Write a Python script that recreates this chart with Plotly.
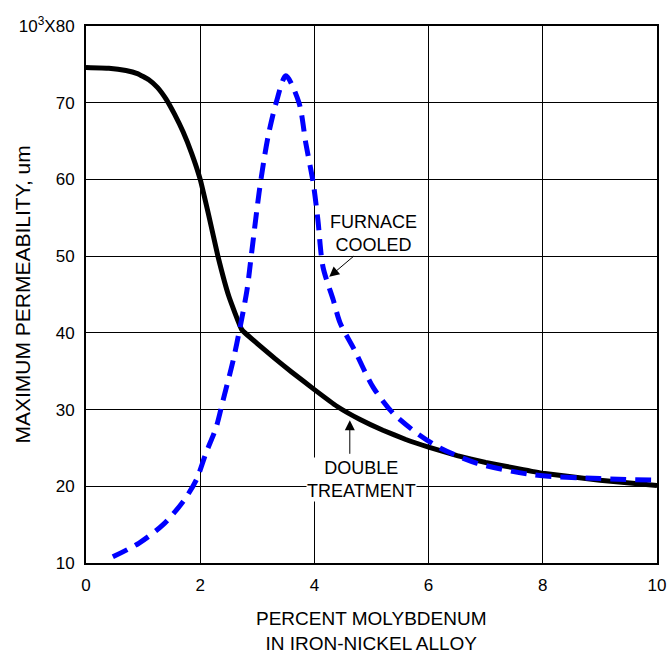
import plotly.graph_objects as go

# Double treatment (solid black)
dt_x = [0, 0.4, 0.7, 0.9, 1.1, 1.25, 1.4, 1.55, 1.7, 1.85, 2.0, 2.15, 2.31, 2.5, 2.73,
        3.0, 3.3, 3.6, 4.0, 4.4, 4.8, 5.2, 5.6, 6.0, 6.5, 7.0, 7.5, 8.0, 9.0, 10]
dt_y = [74.6, 74.5, 74.2, 73.8, 73.0, 72.0, 70.5, 68.5, 66.2, 63.4, 60.0, 55.3, 50.0, 44.8, 40.4,
        38.6, 36.7, 34.9, 32.6, 30.4, 28.7, 27.3, 26.1, 25.1, 24.0, 23.1, 22.4, 21.7, 20.8, 20.1]

# Furnace cooled (dashed blue)
fc_x = [0.47, 0.93, 1.35, 1.7, 1.93, 2.1, 2.28, 2.4, 2.58, 2.7, 2.82, 2.9, 3.03, 3.12, 3.2,
        3.33, 3.5, 3.73, 3.85, 3.98, 4.06, 4.15, 4.33, 4.45, 4.7, 5.03, 5.38, 5.8, 6.2,
        6.85, 7.83, 9.0, 10]
fc_y = [10.8, 12.6, 15.0, 18.0, 20.8, 24.3, 27.7, 31.2, 36.5, 40.8, 45.6, 50.4, 58.2, 62.7, 66.0,
        70.0, 73.5, 70.0, 64.7, 59.5, 54.8, 48.6, 44.3, 41.3, 37.8, 32.9, 29.5, 26.9, 25.0,
        23.0, 21.5, 21.0, 20.8]

x_ticks = [0, 2, 4, 6, 8, 10]
y_ticks = [10, 20, 30, 40, 50, 60, 70, 80]
y_ticktext = ["10", "20", "30", "40", "50", "60", "70", "10<sup>3</sup>X80"]

FONT = "Liberation Sans, Arial, sans-serif"

fig = go.Figure()
fig.add_trace(go.Scatter(x=dt_x, y=dt_y, mode="lines",
                         line=dict(color="black", width=5, shape="spline", smoothing=0.3)))
fig.add_trace(go.Scatter(x=fc_x, y=fc_y, mode="lines",
                         line=dict(color="#0000ff", width=5, dash="16px,9px",
                                   shape="spline", smoothing=0.8)))

fig.update_layout(
    width=669, height=654,
    margin=dict(l=86, r=12, t=26, b=91, autoexpand=False),
    paper_bgcolor="white", plot_bgcolor="white",
    showlegend=False,
    font=dict(family=FONT, color="black", size=17),
)
fig.update_xaxes(range=[0, 10], tickvals=x_ticks, showgrid=True, gridcolor="black",
                 gridwidth=1, showline=True, linecolor="black", linewidth=2, mirror=True,
                 zeroline=False, ticks="", tickfont=dict(size=17), ticklabelstandoff=6,
                 automargin=False)
fig.update_yaxes(range=[10, 80], tickvals=y_ticks, ticktext=y_ticktext, showgrid=True,
                 gridcolor="black", gridwidth=1, showline=True, linecolor="black",
                 linewidth=2, mirror=True, zeroline=False, ticks="",
                 tickfont=dict(size=17), ticklabelstandoff=6, automargin=False)

# Axis titles
fig.add_annotation(text="PERCENT MOLYBDENUM<br>IN IRON-NICKEL ALLOY", xref="paper", yref="paper",
                   x=0.5, y=-0.081, xanchor="center", yanchor="top", showarrow=False,
                   font=dict(size=19), align="center")
fig.add_annotation(text="MAXIMUM PERMEABILITY, um", xref="paper", yref="paper",
                   x=-0.112, y=0.5, xanchor="center", yanchor="middle", textangle=-90,
                   showarrow=False, font=dict(size=21))

# Curve labels
fig.add_annotation(text="FURNACE<br>COOLED", x=5.04, y=52.9, showarrow=False,
                   bgcolor="white", borderpad=0, font=dict(size=18), align="center")
fig.add_annotation(text="DOUBLE<br>TREATMENT", x=4.83, y=20.9, showarrow=False,
                   bgcolor="white", borderpad=0, font=dict(size=18), align="center")

# Arrows
fig.add_annotation(text="", x=4.26, y=47.3, ax=26, ay=-22, showarrow=True,
                   arrowhead=2, arrowsize=2, arrowwidth=1, arrowcolor="black")
fig.add_annotation(text="", x=4.62, y=28.6, ax=0, ay=35, showarrow=True,
                   arrowhead=2, arrowsize=2, arrowwidth=1, arrowcolor="black")

fig.write_html("out.html")
